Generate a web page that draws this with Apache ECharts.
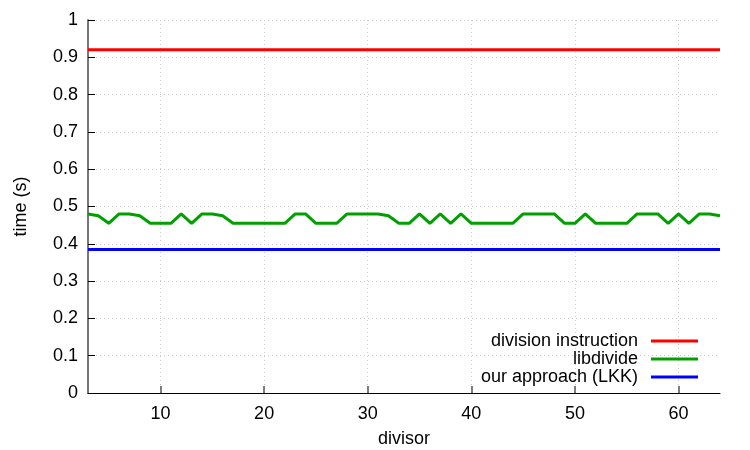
<!DOCTYPE html>
<html>
<head>
<meta charset="utf-8">
<script src="https://cdn.jsdelivr.net/npm/echarts@6/dist/echarts.min.js"></script>
<style>
  html, body { margin: 0; padding: 0; background: #fff; }
  #chart { width: 750px; height: 450px; }
</style>
</head>
<body>
<div id="chart"></div>
<script>
// divisors 3..64
var divisors = [3, 4, 5, 6, 7, 8, 9, 10, 11, 12, 13, 14, 15, 16, 17, 18, 19, 20, 21, 22,
    23, 24, 25, 26, 27, 28, 29, 30, 31, 32, 33, 34, 35, 36, 37, 38, 39, 40, 41, 42,
    43, 44, 45, 46, 47, 48, 49, 50, 51, 52, 53, 54, 55, 56, 57, 58, 59, 60, 61, 62, 63, 64];

var divisionInstr = [0.92, 0.92, 0.92, 0.92, 0.92, 0.92, 0.92, 0.92, 0.92, 0.92, 0.92, 0.92, 0.92, 0.92, 0.92, 0.92, 0.92, 0.92, 0.92, 0.92,
    0.92, 0.92, 0.92, 0.92, 0.92, 0.92, 0.92, 0.92, 0.92, 0.92, 0.92, 0.92, 0.92, 0.92, 0.92, 0.92, 0.92, 0.92, 0.92, 0.92,
    0.92, 0.92, 0.92, 0.92, 0.92, 0.92, 0.92, 0.92, 0.92, 0.92, 0.92, 0.92, 0.92, 0.92, 0.92, 0.92, 0.92, 0.92, 0.92, 0.92, 0.92, 0.92];

var libdivide = [0.48, 0.475, 0.455, 0.48, 0.48, 0.475, 0.455, 0.455, 0.455, 0.48, 0.455, 0.48, 0.48, 0.475, 0.455, 0.455, 0.455, 0.455, 0.455, 0.455,
    0.48, 0.48, 0.455, 0.455, 0.455, 0.48, 0.48, 0.48, 0.48, 0.475, 0.455, 0.455, 0.48, 0.455, 0.48, 0.455, 0.48, 0.455, 0.455, 0.455,
    0.455, 0.455, 0.48, 0.48, 0.48, 0.48, 0.455, 0.455, 0.48, 0.455, 0.455, 0.455, 0.455, 0.48, 0.48, 0.48, 0.455, 0.48, 0.455, 0.48, 0.48, 0.475];

var lkk = [0.385, 0.385, 0.385, 0.385, 0.385, 0.385, 0.385, 0.385, 0.385, 0.385, 0.385, 0.385, 0.385, 0.385, 0.385, 0.385, 0.385, 0.385, 0.385, 0.385,
    0.385, 0.385, 0.385, 0.385, 0.385, 0.385, 0.385, 0.385, 0.385, 0.385, 0.385, 0.385, 0.385, 0.385, 0.385, 0.385, 0.385, 0.385, 0.385, 0.385,
    0.385, 0.385, 0.385, 0.385, 0.385, 0.385, 0.385, 0.385, 0.385, 0.385, 0.385, 0.385, 0.385, 0.385, 0.385, 0.385, 0.385, 0.385, 0.385, 0.385, 0.385, 0.385];

var xTicks = [10, 20, 30, 40, 50, 60];
var seriesNames = ['division instruction', 'libdivide', 'our approach (LKK)'];

var pairs = function (ys) {
    return divisors.map(function (d, i) {
        return [d, ys[i]];
    });
};

var font = '"Liberation Sans", Arial, Helvetica, sans-serif';
var myChart = echarts.init(document.getElementById('chart'), null, {renderer: 'canvas'});

var option = {
    animation: false,
    backgroundColor: '#fff',
    color: ['#ff0000', '#00a000', '#0000ff'],
    textStyle: {fontFamily: font},
    grid: {left: 88, right: 30, top: 20, bottom: 57, containLabel: false, outerBoundsMode: 'none'},
    legend: {
        orient: 'vertical',
        right: 52,
        bottom: 64,
        align: 'right',
        itemWidth: 47,
        itemHeight: 3,
        itemGap: 0,
        icon: 'rect',
        padding: 0,
        textStyle: {fontSize: 18, lineHeight: 17.5, color: '#000', fontFamily: font, padding: [0, 8, 0, 0]},
        data: seriesNames
    },
    xAxis: {
        type: 'value',
        min: 3,
        max: 64,
        name: 'divisor',
        nameLocation: 'middle',
        nameGap: 37,
        nameTextStyle: {fontSize: 18, color: '#000'},
        axisLine: {lineStyle: {color: '#000', width: 1}},
        axisTick: {inside: true, length: 7, customValues: xTicks, lineStyle: {color: '#555', width: 1.5}},
        axisLabel: {customValues: xTicks, fontSize: 18, color: '#000', margin: 12},
        splitLine: {show: true, lineStyle: {color: '#ccc', type: [1, 3], width: 1}}
    },
    yAxis: {
        type: 'value',
        min: 0,
        max: 1,
        interval: 0.1,
        name: 'time (s)',
        nameLocation: 'middle',
        nameGap: 58,
        nameTextStyle: {fontSize: 18, color: '#000'},
        axisLine: {show: true, lineStyle: {color: '#777', width: 2}},
        axisTick: {show: true, inside: true, length: 7, lineStyle: {color: '#000', width: 1}},
        axisLabel: {fontSize: 18, color: '#000', margin: 10,
            formatter: function (v) { return String(Math.round(v * 10) / 10); }},
        splitLine: {show: true, lineStyle: {color: '#ccc', type: [1, 3], width: 1}}
    },
    series: [
        {name: seriesNames[0], type: 'line', showSymbol: false, lineStyle: {width: 3}, data: pairs(divisionInstr)},
        {name: seriesNames[1], type: 'line', showSymbol: false, lineStyle: {width: 3}, data: pairs(libdivide)},
        {name: seriesNames[2], type: 'line', showSymbol: false, lineStyle: {width: 3}, data: pairs(lkk)}
    ]
};
myChart.setOption(option);
</script>
</body>
</html>
